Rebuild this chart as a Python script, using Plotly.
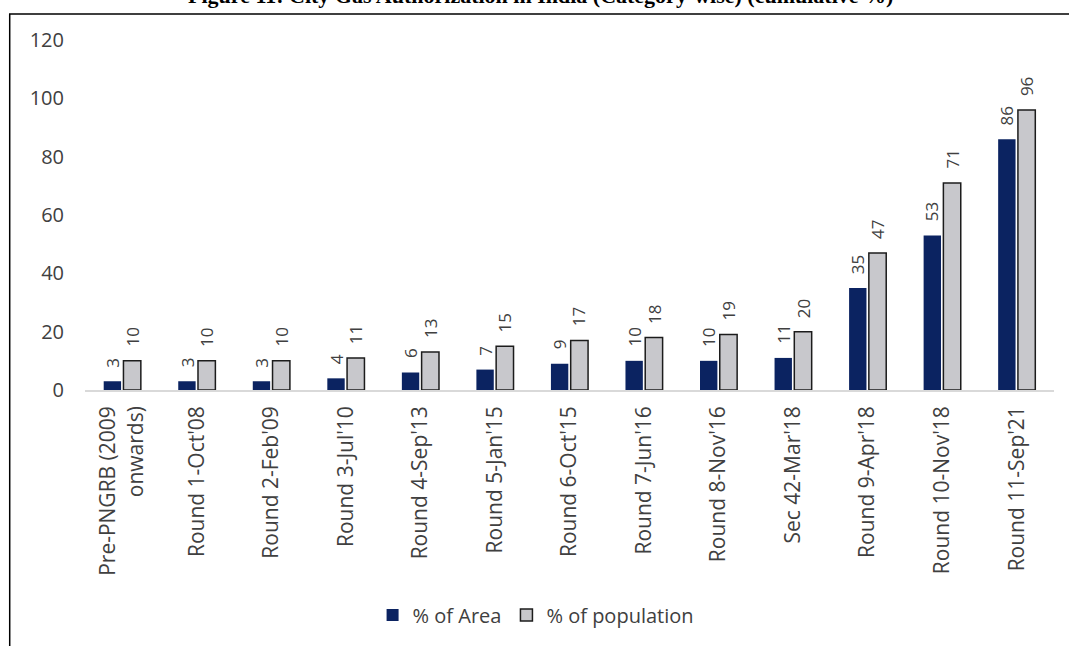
import plotly.graph_objects as go

# Cumulative city gas authorisation by bidding round (%)
categories = [
    "Pre-PNGRB (2009<br>onwards)",
    "Round 1-Oct'08",
    "Round 2-Feb'09",
    "Round 3-Jul'10",
    "Round 4-Sep'13",
    "Round 5-Jan'15",
    "Round 6-Oct'15",
    "Round 7-Jun'16",
    "Round 8-Nov'16",
    "Sec 42-Mar'18",
    "Round 9-Apr'18",
    "Round 10-Nov'18",
    "Round 11-Sep'21",
]
area_pct = [3, 3, 3, 4, 6, 7, 9, 10, 10, 11, 35, 53, 86]
population_pct = [10, 10, 10, 11, 13, 15, 17, 18, 19, 20, 47, 71, 96]
y_ticks = [0, 20, 40, 60, 80, 100, 120]

TITLE = "Figure 11: City Gas Authorization in India (Category-wise) (cumulative %)"

NAVY = "#0b2361"
GREY = "#c8c8cc"
OUTLINE = "#1c1c1c"
TEXT = "#404040"
FONT = "Open Sans, Liberation Sans, sans-serif"

BARGAP = 0.47
BARGROUPGAP = 0.12

fig = go.Figure()
fig.add_trace(go.Bar(
    name="% of Area", x=categories, y=area_pct,
    marker=dict(color=NAVY, line=dict(width=0)),
))
fig.add_trace(go.Bar(
    name="% of population", x=categories, y=population_pct,
    marker=dict(color=GREY, line=dict(color=OUTLINE, width=1.5)),
))

# rotated value labels above each bar
offset = (1 - BARGAP) / 4
annotations = []
for i, (a, p) in enumerate(zip(area_pct, population_pct)):
    for xv, val in ((i - offset, a), (i + offset, p)):
        annotations.append(dict(
            x=xv, y=val, xref="x", yref="y", text=str(val),
            textangle=-90, showarrow=False, yanchor="bottom",
            xanchor="center", yshift=12,
            font=dict(family=FONT, size=17, color=TEXT),
        ))

# figure caption, partly running off the top edge
annotations.append(dict(
    x=0.47, y=1.085, xref="paper", yref="paper", text="<b>" + TITLE + "</b>",
    showarrow=False, xanchor="center", yanchor="bottom",
    font=dict(family="Liberation Serif, Times New Roman, serif", size=22, color="#000000"),
))

fig.update_layout(
    width=1069, height=646,
    margin=dict(l=85, r=15, t=40, b=256),
    paper_bgcolor="white", plot_bgcolor="white",
    barmode="group", bargap=BARGAP, bargroupgap=BARGROUPGAP,
    font=dict(family=FONT, size=20, color=TEXT),
    showlegend=True,
    legend=dict(
        orientation="h", x=0.465, xanchor="center", y=-0.643, yanchor="middle",
        yref="paper", font=dict(family=FONT, size=20, color=TEXT),
        itemwidth=30, bgcolor="rgba(0,0,0,0)",
    ),
    annotations=annotations,
    shapes=[dict(
        type="rect", xref="paper", yref="paper",
        x0=-0.0777, x1=1.03, y0=-0.76, y1=1.0743,
        line=dict(color="#000000", width=1.5), fillcolor="rgba(0,0,0,0)",
        layer="below",
    )],
)

fig.update_xaxes(
    type="category", tickangle=-90, showgrid=False, zeroline=False,
    showline=True, linecolor="#d9d9d9", linewidth=1.5, ticks="",
    ticklabelstandoff=6,
    tickfont=dict(family=FONT, size=21, color=TEXT),
)
fig.update_yaxes(
    range=[0, 120], tickvals=y_ticks, showgrid=False, zeroline=False,
    showline=False, ticks="", ticklabelstandoff=20,
    tickfont=dict(family=FONT, size=20, color=TEXT),
)

fig.write_html("out.html")
